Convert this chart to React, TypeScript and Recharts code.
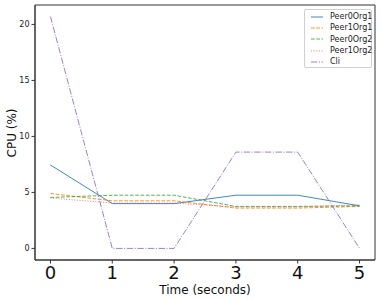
import React from 'react';
import { LineChart, Line, XAxis, YAxis, ReferenceArea } from 'recharts';

const seconds = [0, 1, 2, 3, 4, 5];
const peer0Org1 = [7.45, 4.0, 4.0, 4.75, 4.75, 3.8];
const peer1Org1 = [4.9, 4.25, 4.25, 3.6, 3.6, 3.75];
const peer0Org2 = [4.55, 4.75, 4.75, 3.75, 3.75, 3.8];
const peer1Org2 = [4.5, 4.05, 4.05, 3.7, 3.7, 3.9];
const cli = [20.7, 0, 0, 8.6, 8.6, 0];
const yTicks = [0, 5, 10, 15, 20];

const data = seconds.map((t, i) => ({
  t,
  Peer0Org1: peer0Org1[i],
  Peer1Org1: peer1Org1[i],
  Peer0Org2: peer0Org2[i],
  Peer1Org2: peer1Org2[i],
  Cli: cli[i],
}));

const SERIES = [
  { key: 'Peer0Org1', color: '#1f77b4', dash: undefined, opacity: 0.85 },
  { key: 'Peer1Org1', color: '#ff7f0e', dash: '3.7 1.6', opacity: 0.85 },
  { key: 'Peer0Org2', color: '#2ca02c', dash: '3.7 1.6', opacity: 0.8 },
  { key: 'Peer1Org2', color: '#e0474c', dash: '1 1.65', opacity: 0.7 },
  { key: 'Cli', color: '#9467bd', dash: '6.4 1.6 1 1.6', opacity: 0.85 },
];

const FONT = '"DejaVu Sans", sans-serif';

const LegendBox = () => (
  <div
    style={{
      position: 'absolute',
      left: 304,
      top: 9,
      width: 68,
      height: 59,
      border: '1px solid #d0d0d0',
      borderRadius: 2,
      background: '#fff',
      fontFamily: FONT,
      fontSize: 8,
      color: '#222',
      boxSizing: 'border-box',
      paddingTop: 1,
    }}
  >
    {SERIES.map((s) => (
      <div key={s.key} style={{ display: 'flex', alignItems: 'center', height: 11.3 }}>
        <svg width={24} height={8} style={{ flex: 'none' }}>
          <line x1={6} y1={4} x2={18} y2={4} stroke={s.color} strokeOpacity={s.opacity} strokeWidth={1} strokeDasharray={s.dash} />
        </svg>
        <span style={{ marginLeft: 1 }}>{s.key}</span>
      </div>
    ))}
  </div>
);

const YLabel = () => (
  <text
    x={12}
    y={133}
    transform="rotate(-90, 12, 133)"
    textAnchor="middle"
    dominantBaseline="central"
    fontSize={12}
    fill="#111"
    fontFamily={FONT}
  >
    CPU (%)
  </text>
);

export default function App() {
  return (
    <div style={{ position: 'fixed', left: 0, top: 0, width: 382, height: 300, background: '#fff' }}>
      <LineChart width={382} height={300} data={data} margin={{ top: 5, right: 7, left: 0, bottom: 0 }}>
        <XAxis
          dataKey="t"
          type="number"
          domain={[-0.25, 5.25]}
          ticks={seconds}
          tickLine={{ stroke: '#333' }}
          tickSize={3.5}
          axisLine={{ stroke: '#333' }}
          tick={{ fontSize: 18, fill: '#111', fontFamily: FONT, dy: 1 }}
          height={40}
          label={{ value: 'Time (seconds)', position: 'insideBottom', offset: 6, fontSize: 12, fill: '#111', fontFamily: FONT }}
        />
        <YAxis
          type="number"
          domain={[-1.035, 21.735]}
          ticks={yTicks}
          tickLine={{ stroke: '#333' }}
          tickSize={3.5}
          axisLine={{ stroke: '#333' }}
          tick={{ fontSize: 8, fill: '#222', fontFamily: FONT }}
          width={35}
          label={<YLabel />}
        />
        <ReferenceArea x1={-0.25} x2={5.25} y1={-1.035} y2={21.735} fill="none" stroke="#333" strokeWidth={1} />
        {SERIES.map((s) => (
          <Line
            key={s.key}
            dataKey={s.key}
            type="linear"
            stroke={s.color}
            strokeOpacity={s.opacity}
            strokeWidth={1}
            strokeDasharray={s.dash}
            dot={false}
            activeDot={false}
            isAnimationActive={false}
          />
        ))}
      </LineChart>
      <LegendBox />
    </div>
  );
}
